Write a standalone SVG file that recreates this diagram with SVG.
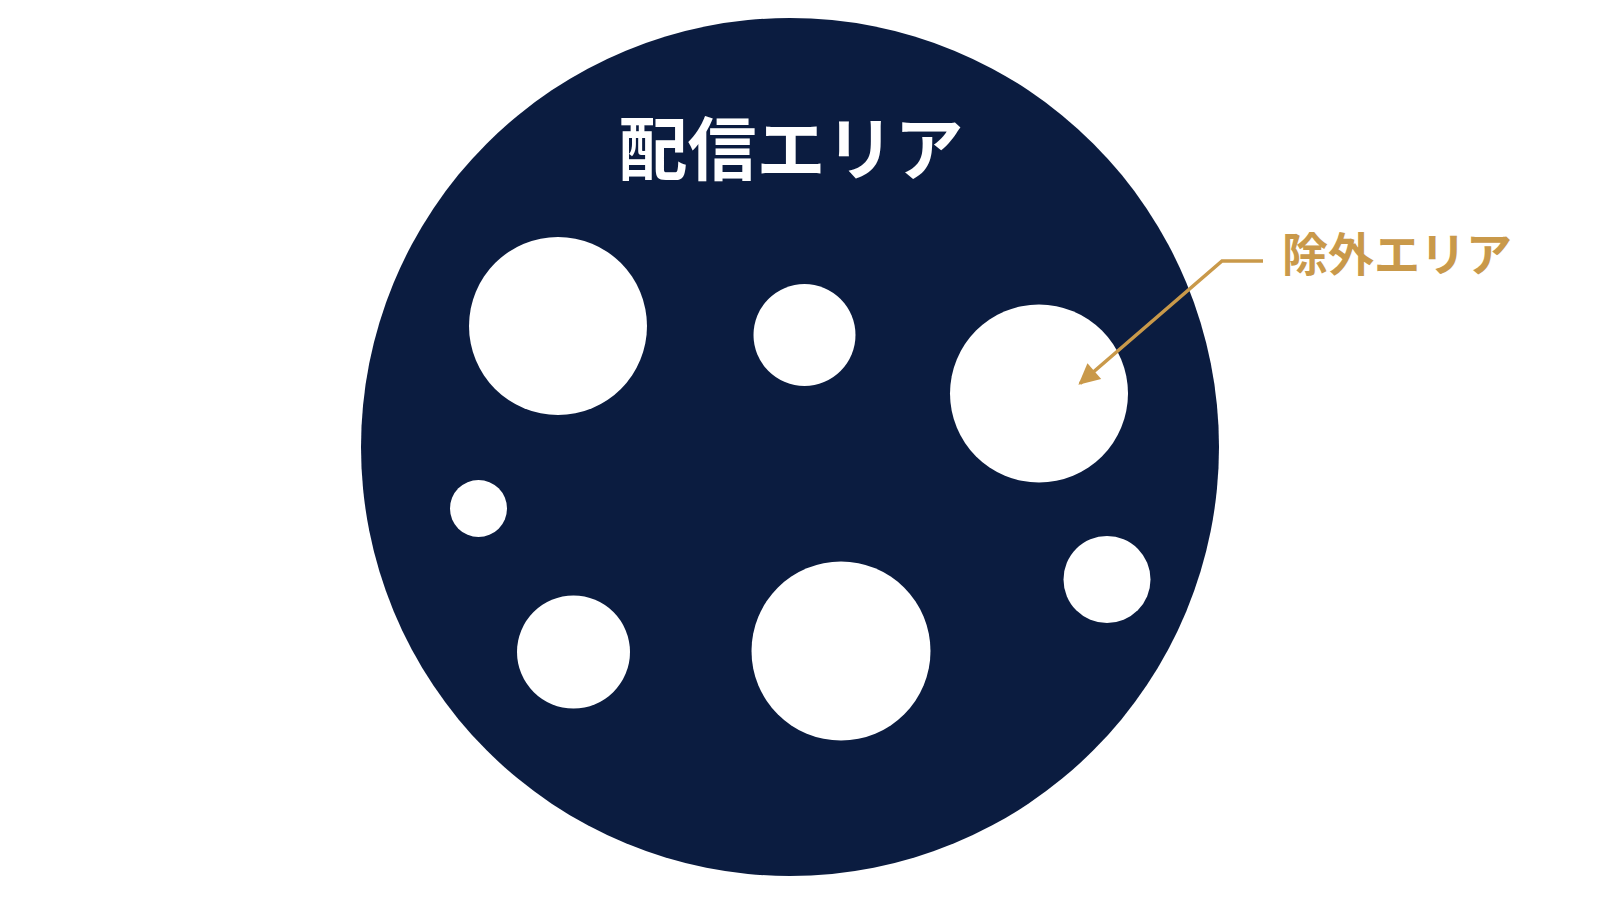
<svg xmlns="http://www.w3.org/2000/svg" width="1600" height="900" viewBox="0 0 1600 900">
<defs>
<style>
.area{fill:#0b1c40}
.hole{fill:#ffffff}
.t1{font-family:"Noto Sans CJK JP","Noto Sans CJK SC",sans-serif;font-weight:bold;font-size:69px;fill:#ffffff}
.t2{font-family:"Noto Sans CJK JP","Noto Sans CJK SC",sans-serif;font-weight:bold;font-size:46px;fill:#c9994a}
.lead{fill:none;stroke:#c9994a;stroke-width:3.5}
</style>
<marker id="ah" viewBox="0 0 10 10" refX="9" refY="5" markerWidth="7" markerHeight="6" markerUnits="strokeWidth" orient="auto">
<path d="M0,0 L10,5 L0,10 Z" fill="#c9994a"/>
</marker>
</defs>
<rect width="1600" height="900" fill="#ffffff"/>
<g id="delivery-area">
<circle class="area" cx="790" cy="447" r="429"/>
<text class="t1" x="791" y="175" text-anchor="middle">配信エリア</text>
</g>
<g id="excluded-areas">
<circle class="hole" cx="558" cy="326" r="89"/>
<circle class="hole" cx="804.5" cy="335" r="51"/>
<circle class="hole" cx="1039" cy="393.5" r="89"/>
<circle class="hole" cx="478.5" cy="508.5" r="28.5"/>
<circle class="hole" cx="573.5" cy="652" r="56.5"/>
<circle class="hole" cx="841" cy="651" r="89.5"/>
<circle class="hole" cx="1107" cy="579.5" r="43.5"/>
</g>
<g id="excluded-label">
<text class="t2" x="1282" y="271">除外エリア</text>
</g>
<g id="connectors">
<path class="lead" d="M1263,261 L1222,261 L1080,383.5" marker-end="url(#ah)"/>
</g>
</svg>
